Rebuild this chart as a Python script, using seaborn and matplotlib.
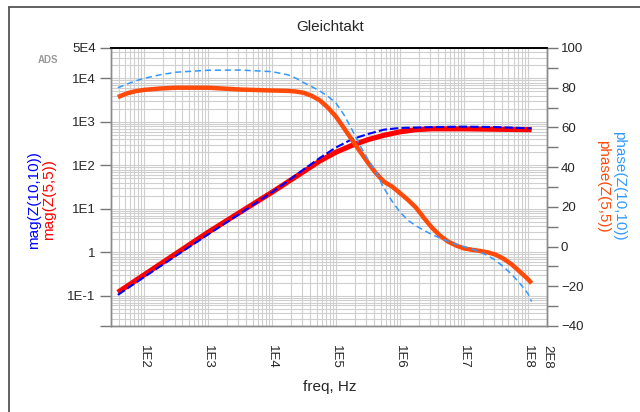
import numpy as np
import matplotlib
matplotlib.use("Agg")
import matplotlib.pyplot as plt
from matplotlib.ticker import LogLocator, NullFormatter, MultipleLocator
from matplotlib.lines import Line2D
import seaborn as sns

# ---------------- data ----------------
freq_mag = [39, 100, 316, 1e3, 3.16e3, 1e4, 1.78e4, 3.16e4, 5.62e4, 1e5,
            1.78e5, 3.16e5, 5.62e5, 1e6, 1.78e6, 3.16e6, 1e7, 3.16e7, 1.15e8]
mag_z1010 = [0.105, 0.269, 0.832, 2.57, 7.76, 24.0, 43.7, 81.3, 148, 257,
             398, 525, 661, 724, 741, 759, 776, 759, 708]
mag_z55 = [0.120, 0.302, 0.933, 2.88, 8.32, 24.0, 41.7, 72.4, 126, 200,
           288, 389, 490, 589, 661, 692, 692, 676, 661]

freq_ph = [39, 56, 75, 100, 178, 316, 1e3, 3.16e3, 1e4, 1.78e4, 2.37e4,
           3.16e4, 4.22e4, 5.62e4, 7.5e4, 1e5, 1.33e5, 1.78e5, 2.37e5, 3.16e5,
           4.22e5, 5.62e5, 7.5e5, 1e6, 1.33e6, 1.78e6, 2.37e6, 3.16e6, 4.22e6,
           5.62e6, 7.5e6, 1e7, 1.33e7, 1.78e7, 2.37e7, 3.16e7, 4.22e7, 5.62e7,
           7.5e7, 1e8, 1.15e8]
phase_z1010 = [80, 82, 83.5, 84.7, 86.5, 87.8, 88.8, 88.9, 88.1, 86.5, 84.8,
               82.5, 80.5, 78.3, 75.7, 72.3, 66.5, 59, 51, 44,
               37.5, 29.5, 23, 17.5, 13.3, 10.5, 8.2, 6.1, 4.3,
               2.7, 1.2, 0, -1.2, -2.7, -4.6, -7, -10.3, -14,
               -18.5, -23.5, -27.7]
phase_z55 = [75.3, 77.3, 78.3, 78.9, 79.6, 80, 80, 79.1, 78.6, 78.4, 78.1,
             77.4, 75.9, 73.6, 70, 65.5, 59.8, 53.8, 48, 42.3,
             37, 32.7, 30.3, 27, 23.6, 19.7, 14.5, 9.6, 5.6,
             2.6, 0.6, -0.9, -1.6, -2.2, -2.9, -4.1, -6.2, -9.0,
             -12.6, -16.3, -18.5]

x_ticks = [1e2, 1e3, 1e4, 1e5, 1e6, 1e7, 1e8, 2e8]
x_ticklabels = ["1E2", "1E3", "1E4", "1E5", "1E6", "1E7", "1E8", "2E8"]
yl_ticks = [5e4, 1e4, 1e3, 1e2, 1e1, 1, 1e-1]
yl_ticklabels = ["5E4", "1E4", "1E3", "1E2", "1E1", "1", "1E-1"]

# ---------------- style ----------------
sns.set_style("white")
plt.rcParams["font.family"] = ["Liberation Sans", "DejaVu Sans"]

fig = plt.figure(figsize=(6.4, 4.12), dpi=100)
W, H = 640, 412
L, R, T, B = 111, 547, 48, 326
ax = fig.add_axes([L / W, 1 - B / H, (R - L) / W, (B - T) / H])
ax2 = ax.twinx()

# magnitude curves
sns.lineplot(x=freq_mag, y=mag_z55, ax=ax, color="#ff0000", linewidth=3.7,
             sort=False, estimator=None, solid_capstyle="butt",
             solid_joinstyle="round")
sns.lineplot(x=freq_mag, y=mag_z1010, ax=ax, color="#0000ff", linewidth=1.5,
             sort=False, estimator=None, linestyle=(0, (4, 1.5)))

# phase curves
sns.lineplot(x=freq_ph, y=phase_z55, ax=ax2, color="#ff4a0a", linewidth=3.2,
             sort=False, estimator=None, solid_capstyle="butt",
             solid_joinstyle="round")
sns.lineplot(x=freq_ph, y=phase_z1010, ax=ax2, color="#3399ff", linewidth=1.1,
             sort=False, estimator=None, linestyle=(0, (4, 2.5)))

# scales
ax.set_xscale("log")
ax.set_yscale("log")
ax.set_xlim(30.5, 2e8)
ax.set_ylim(0.0202, 5e4)
ax2.set_ylim(-40, 100)

# grid
ax.xaxis.set_minor_locator(LogLocator(base=10, subs=np.arange(2, 10), numticks=100))
ax.yaxis.set_minor_locator(LogLocator(base=10, subs=np.arange(2, 10), numticks=100))
ax.xaxis.set_minor_formatter(NullFormatter())
ax.yaxis.set_minor_formatter(NullFormatter())
ax.grid(which="both", color="#cfcfcf", linewidth=0.8)
ax.set_axisbelow(True)

# ticks
ax.set_xticks([30.5] + x_ticks)
ax.set_xticklabels([""] + x_ticklabels, rotation=270, fontsize=9.5)
ax.set_yticks([0.0202] + yl_ticks)
ax.set_yticklabels([""] + yl_ticklabels, fontsize=9.5)
ax.tick_params(which="major", direction="out", length=8, width=1, color="#777777", pad=3)
ax.tick_params(which="minor", length=0)
ax.tick_params(axis="x", pad=6)
for lab in ax.get_xticklabels():
    lab.set_va("top")
    lab.set_ha("center")

ax2.yaxis.set_major_locator(MultipleLocator(20))
ax2.yaxis.set_minor_locator(MultipleLocator(10))
ax2.tick_params(which="both", direction="out", length=8, width=1, color="#777777",
                labelsize=9.5, pad=2)
ax2.grid(False)

for a in (ax, ax2):
    for s in ("left", "bottom", "right"):
        a.spines[s].set_color("#8a8a8a")
        a.spines[s].set_linewidth(1)
    a.spines["top"].set_color("#000000")
    a.spines["top"].set_linewidth(1.2)
ax.set_xlabel("")
ax.set_ylabel("")
ax2.set_ylabel("")

# texts
fig.text(330 / W, 1 - 27 / H, "Gleichtakt", ha="center", va="center", fontsize=11)
fig.text(330 / W, 1 - 387 / H, "freq, Hz", ha="center", va="center", fontsize=11)
fig.text(34 / W, 1 - 200 / H, "mag(Z(10,10))", rotation=90, ha="center", va="center",
         fontsize=11, color="#0000ff")
fig.text(49 / W, 1 - 200 / H, "mag(Z(5,5))", rotation=90, ha="center", va="center",
         fontsize=11, color="#ff0000")
fig.text(619 / W, 1 - 186 / H, "phase(Z(10,10))", rotation=270, ha="center", va="center",
         fontsize=11, color="#3399ff")
fig.text(603 / W, 1 - 186 / H, "phase(Z(5,5))", rotation=270, ha="center", va="center",
         fontsize=11, color="#ff4a0a")
fig.text(48 / W, 1 - 60 / H, "ADS", ha="center", va="center", fontsize=7,
         color="#999999", fontweight="bold")

# outer frame (top and left edges)
fig.add_artist(Line2D([9 / W, 1], [1 - 6.5 / H, 1 - 6.5 / H], transform=fig.transFigure,
                      color="#555555", linewidth=1.3))
fig.add_artist(Line2D([9 / W, 9 / W], [0, 1 - 6.5 / H], transform=fig.transFigure,
                      color="#555555", linewidth=1.3))

fig.savefig("out.png", dpi=100)
